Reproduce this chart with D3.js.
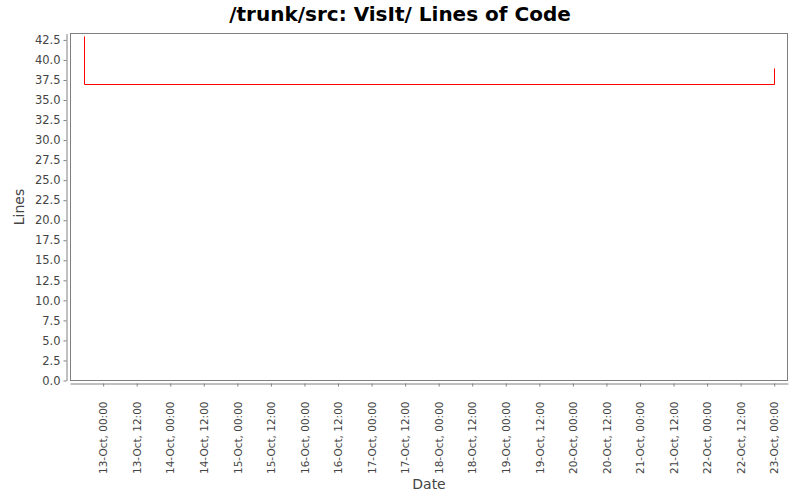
<!DOCTYPE html>
<html>
<head>
<meta charset="utf-8">
<script src="https://cdn.jsdelivr.net/npm/d3@7"></script>
<style>
    body { margin: 0; background: #fff; }
    svg { display: block; font-family: "DejaVu Sans", sans-serif; }
</style>
</head>
<body>
<svg width="800" height="500"></svg>
<script>
// Commit times and line counts (step series)
const dates = ["2008-10-12T17:05:00Z", "2008-10-12T17:06:00Z", "2008-10-23T00:00:00Z"];
const lines = [43, 37, 39];
const yTicks = [0, 2.5, 5, 7.5, 10, 12.5, 15, 17.5, 20, 22.5, 25, 27.5, 30, 32.5, 35, 37.5, 40, 42.5];

const title = "/trunk/src: VisIt/ Lines of Code";

const data = dates.map((d, i) => ({ date: new Date(d), value: lines[i] }));

const plot = { left: 70, right: 788, top: 33.5, bottom: 380.5 };
const svg = d3.select("svg");

// 2% margin either side of the data, like the original renderer
const t0 = data[0].date, t1 = data[data.length - 1].date;
const span = t1 - t0;
const x = d3.scaleUtc()
    .domain([new Date(+t0 - span * 0.02), new Date(+t1 + span * 0.02)])
    .range([plot.left, plot.right]);

const vMin = d3.min(lines), vMax = d3.max(lines);
const y = d3.scaleLinear()
    .domain([0, vMax + (vMax - vMin) * 0.05])
    .range([plot.bottom, plot.top]);

// title
svg.append("text")
    .attr("x", 400).attr("y", 21)
    .attr("text-anchor", "middle")
    .style("font-size", "20px").style("font-weight", "bold")
    .text(title);

// plot outline
svg.append("rect")
    .attr("x", plot.left + 0.5).attr("y", plot.top)
    .attr("width", plot.right - plot.left - 1).attr("height", plot.bottom - plot.top)
    .attr("fill", "#fff").attr("stroke", "#808080");

// y axis
const yAxis = svg.append("g")
    .attr("transform", "translate(66.5,0)")
    .call(d3.axisLeft(y).tickValues(yTicks).tickFormat(d3.format(".1f")).tickSize(3).tickSizeOuter(0).tickPadding(3));
yAxis.select(".domain").attr("stroke", "#808080");
yAxis.selectAll(".tick line").attr("stroke", "#808080");
yAxis.selectAll(".tick text").attr("fill", "#444").style("font-size", "11.5px").style("font-family", "DejaVu Sans");

// x axis
const xTicks = x.ticks(d3.utcHour.every(12));
const xAxis = svg.append("g")
    .attr("transform", "translate(0,383.5)")
    .call(d3.axisBottom(x).tickValues(xTicks).tickFormat(d3.utcFormat("%d-%b, %H:%M")).tickSize(3).tickSizeOuter(0));
xAxis.select(".domain").attr("stroke", "#808080");
xAxis.selectAll(".tick line").attr("stroke", "#808080");
xAxis.selectAll(".tick text")
    .attr("fill", "#444").style("font-size", "10.5px").style("font-family", "DejaVu Sans")
    .attr("text-anchor", "end")
    .attr("transform", "rotate(-90)")
    .attr("x", -18).attr("y", 0).attr("dy", "0.35em");

// axis labels
svg.append("text")
    .attr("transform", `translate(24,${(plot.top + plot.bottom) / 2}) rotate(-90)`)
    .attr("text-anchor", "middle")
    .attr("fill", "#444").style("font-size", "14px")
    .text("Lines");

svg.append("text")
    .attr("x", (plot.left + plot.right) / 2).attr("y", 489)
    .attr("text-anchor", "middle")
    .attr("fill", "#444").style("font-size", "14px")
    .text("Date");

// step line, snapped to pixel centres so it stays a crisp 1px red
const line = d3.line()
    .x(d => Math.round(x(d.date)) + 0.5)
    .y(d => Math.round(y(d.value)) + 0.5)
    .curve(d3.curveStepAfter);

svg.append("path")
    .datum(data)
    .attr("d", line)
    .attr("fill", "none")
    .attr("stroke", "#ff0000")
    .attr("stroke-width", 1);
</script>
</body>
</html>
